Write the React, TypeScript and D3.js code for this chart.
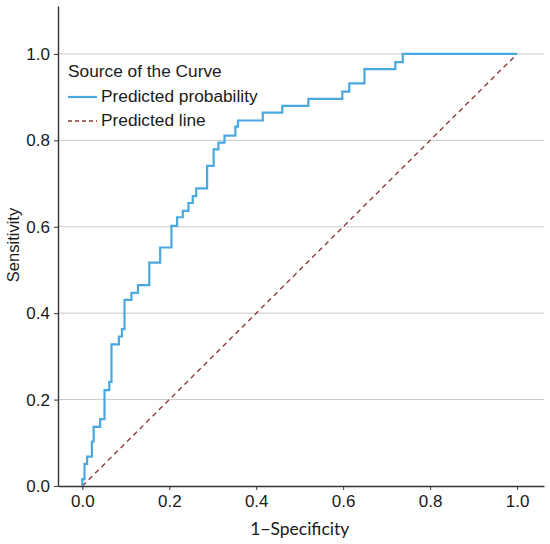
import React, { useEffect, useRef } from "react";
import * as d3 from "d3";

// ROC corners: at each fpr the curve climbs to the tpr value
const fprValues = [
  0, 0, 0.005, 0.011, 0.022, 0.026, 0.041, 0.051, 0.062, 0.067, 0.084, 0.091,
  0.097, 0.113, 0.128, 0.154, 0.179, 0.205, 0.218, 0.231, 0.244, 0.254, 0.262,
  0.287, 0.302, 0.313, 0.327, 0.352, 0.358, 0.415, 0.46, 0.52, 0.598, 0.614,
  0.649, 0.72, 0.737, 1.0,
];
const tprValues = [
  0, 0.016, 0.051, 0.068, 0.103, 0.137, 0.155, 0.222, 0.241, 0.328, 0.346,
  0.363, 0.431, 0.447, 0.465, 0.517, 0.552, 0.602, 0.622, 0.637, 0.655, 0.671,
  0.689, 0.741, 0.779, 0.795, 0.811, 0.832, 0.846, 0.864, 0.88, 0.896, 0.913,
  0.932, 0.965, 0.981, 1.0, 1.0,
];
const referenceLine: [number, number][] = [
  [0, 0],
  [1, 1],
];
const tickValues = [0, 0.2, 0.4, 0.6, 0.8, 1.0];
const legendTitle = "Source of the Curve";
const seriesNames = ["Predicted probability", "Predicted line"];

const App: React.FC = () => {
  const svgRef = useRef<SVGSVGElement | null>(null);

  useEffect(() => {
    document.body.style.margin = "0";
    if (!svgRef.current) return;
    const svg = d3.select(svgRef.current);
    svg.selectAll("*").remove();

    const font = "'Liberation Sans', Arial, sans-serif";
    const blue = "#4aa8e0";
    const red = "#8e3a3a";

    const xScale = d3.scaleLinear().domain([-0.056, 1.062]).range([58, 544]);
    const yScale = d3.scaleLinear().domain([0, 1.111]).range([486, 6]);

    // horizontal grid
    svg
      .append("g")
      .selectAll("line")
      .data(tickValues.slice(1))
      .join("line")
      .attr("x1", xScale.range()[0])
      .attr("x2", xScale.range()[1])
      .attr("y1", (d) => yScale(d))
      .attr("y2", (d) => yScale(d))
      .attr("stroke", "#c9c9c9")
      .attr("stroke-width", 1);

    const xAxis = svg
      .append("g")
      .attr("transform", `translate(0,${yScale(0)})`)
      .call(
        d3.axisBottom(xScale).tickValues(tickValues).tickSize(4).tickSizeOuter(0).tickPadding(5).tickFormat(d3.format(".1f"))
      );
    const yAxis = svg
      .append("g")
      .attr("transform", `translate(${xScale.range()[0]},0)`)
      .call(
        d3.axisLeft(yScale).tickValues(tickValues).tickSize(4).tickSizeOuter(0).tickPadding(4).tickFormat(d3.format(".1f"))
      );

    [xAxis, yAxis].forEach((g) => {
      g.select(".domain").attr("stroke", "#333").attr("stroke-width", 1.4);
      g.selectAll(".tick line").attr("stroke", "#333");
      g.selectAll("text")
        .style("font-family", font)
        .style("font-size", "17px")
        .attr("fill", "#1a1a1a");
    });

    // diagonal reference
    const line = d3
      .line<[number, number]>()
      .x((d) => xScale(d[0]))
      .y((d) => yScale(d[1]));

    svg
      .append("path")
      .datum(referenceLine)
      .attr("d", line)
      .attr("fill", "none")
      .attr("stroke", red)
      .attr("stroke-width", 1.4)
      .attr("stroke-dasharray", "5,4");

    // ROC curve
    const rocPoints: [number, number][] = fprValues.map((x, i) => [x, tprValues[i]]);
    const stepLine = d3
      .line<[number, number]>()
      .x((d) => xScale(d[0]))
      .y((d) => yScale(d[1]))
      .curve(d3.curveStepAfter);

    svg
      .append("path")
      .datum(rocPoints)
      .attr("d", stepLine)
      .attr("fill", "none")
      .attr("stroke", blue)
      .attr("stroke-width", 2.2);

    // legend
    const legend = svg.append("g").style("font-family", font).style("font-size", "17.3px");
    legend.append("text").attr("x", 68).attr("y", 77).attr("fill", "#1a1a1a").text(legendTitle);
    legend.append("line").attr("x1", 68).attr("x2", 97).attr("y1", 97).attr("y2", 97)
      .attr("stroke", blue).attr("stroke-width", 2.2);
    legend.append("text").attr("x", 101).attr("y", 102).attr("fill", "#1a1a1a").text(seriesNames[0]);
    legend.append("line").attr("x1", 68).attr("x2", 97).attr("y1", 121).attr("y2", 121)
      .attr("stroke", red).attr("stroke-width", 1.4).attr("stroke-dasharray", "4,3");
    legend.append("text").attr("x", 101).attr("y", 126).attr("fill", "#1a1a1a").text(seriesNames[1]);

    // axis titles
    svg
      .append("text")
      .attr("x", xScale(0.5))
      .attr("y", 535)
      .attr("text-anchor", "middle")
      .style("font-family", "Lato, 'Open Sans', sans-serif")
      .style("font-size", "17.5px")
      .attr("fill", "#1a1a1a")
      .text("1−Specificity");

    svg
      .append("text")
      .attr("transform", "rotate(-90)")
      .attr("x", -245)
      .attr("y", 19)
      .attr("text-anchor", "middle")
      .style("font-family", font)
      .style("font-size", "16.5px")
      .attr("fill", "#1a1a1a")
      .text("Sensitivity");
  }, []);

  return (
    <svg
      ref={svgRef}
      width={550}
      height={544}
      style={{ display: "block", background: "#fff" }}
    />
  );
};

export default App;
